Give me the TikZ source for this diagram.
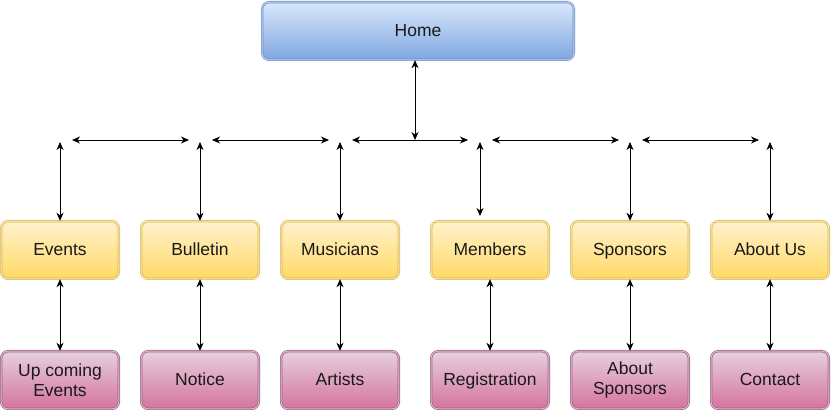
\documentclass[tikz,border=0pt]{standalone}
\usepackage{fontspec}
\setmainfont{Liberation Sans}
\usetikzlibrary{arrows.meta}
\definecolor{blueTop}{HTML}{DAE8FC}
\definecolor{blueBot}{HTML}{7EA6E0}
\definecolor{blueLine}{HTML}{6C8EBF}
\definecolor{yelTop}{HTML}{FFF2CC}
\definecolor{yelBot}{HTML}{FFD966}
\definecolor{yelLine}{HTML}{D6B656}
\definecolor{pinkTop}{HTML}{E6D0DE}
\definecolor{pinkBot}{HTML}{D5739D}
\definecolor{pinkLine}{HTML}{996185}
\tikzset{
  box/.style={rectangle, rounded corners=7pt, line width=0.7pt, double distance=0.9pt,
    minimum width=117.7pt, minimum height=57.7pt, inner sep=2pt, align=center,
    font=\fontsize{17.5}{20}\selectfont, text=black!90},
  oneline/.style={text height=15pt, text depth=3pt},
  homebox/.style={box, oneline, draw=blueLine, double=blueTop!75!blueBot, top color=blueTop, bottom color=blueBot,
    minimum width=311.7pt},
  mainbox/.style={box, oneline, draw=yelLine, double=yelTop!80!yelBot, top color=yelTop, bottom color=yelBot},
  subbox/.style={box, draw=pinkLine, double=pinkTop!80!pinkBot, top color=pinkTop, bottom color=pinkBot},
  link/.style={line width=0.8pt, {Stealth[length=8pt,width=7pt,inset=2.5pt]}-{Stealth[length=8pt,width=7pt,inset=2.5pt]}},
}
\begin{document}
\begin{tikzpicture}[x=1pt,y=-1pt]
\useasboundingbox (0,0) rectangle (831,411);
% boxes
\node[homebox] (home) at (418,31) {Home};
\node[mainbox] (ev)  at (60,250)  {Events};
\node[mainbox] (bu)  at (200,250) {Bulletin};
\node[mainbox] (mu)  at (340,250) {Musicians};
\node[mainbox] (me)  at (490,250) {Members};
\node[mainbox] (sp)  at (630,250) {Sponsors};
\node[mainbox] (ab)  at (770,250) {About Us};
\node[subbox] (uc)  at (60,380)  {Up coming\\Events};
\node[subbox, oneline] (no)  at (200,380) {Notice};
\node[subbox, oneline] (ar)  at (340,380) {Artists};
\node[subbox, oneline] (re)  at (490,380) {Registration};
\node[subbox] (as)  at (630,380) {About\\Sponsors};
\node[subbox, oneline] (co)  at (770,380) {Contact};
% coordinates
\coordinate (hj) at (415,140);
\coordinate (h1a) at (72,140);  \coordinate (h1b) at (189,140);
\coordinate (h2a) at (212,140); \coordinate (h2b) at (329,140);
\coordinate (h3a) at (352,140); \coordinate (h3b) at (468,140);
\coordinate (h4a) at (492,140); \coordinate (h4b) at (619,140);
\coordinate (h5a) at (642,140); \coordinate (h5b) at (759,140);
\coordinate (t1) at (60,142);
\coordinate (t2) at (200,142);
\coordinate (t3) at (340,142);
\coordinate (t4) at (480,142);
\coordinate (t4b) at (480,216);
\coordinate (t5) at (630,142);
\coordinate (t6) at (770,142);
% connectors
\draw[link] (home.south -| hj) -- (hj);
\draw[link] (h1a) -- (h1b);
\draw[link] (h2a) -- (h2b);
\draw[link] (h3a) -- (h3b);
\draw[link] (h4a) -- (h4b);
\draw[link] (h5a) -- (h5b);
\draw[link] (t1) -- (ev.north);
\draw[link] (t2) -- (bu.north);
\draw[link] (t3) -- (mu.north);
\draw[link] (t4) -- (t4b);
\draw[link] (t5) -- (sp.north);
\draw[link] (t6) -- (ab.north);
\draw[link] (ev) -- (uc);
\draw[link] (bu) -- (no);
\draw[link] (mu) -- (ar);
\draw[link] (me) -- (re);
\draw[link] (sp) -- (as);
\draw[link] (ab) -- (co);
\end{tikzpicture}
\end{document}
